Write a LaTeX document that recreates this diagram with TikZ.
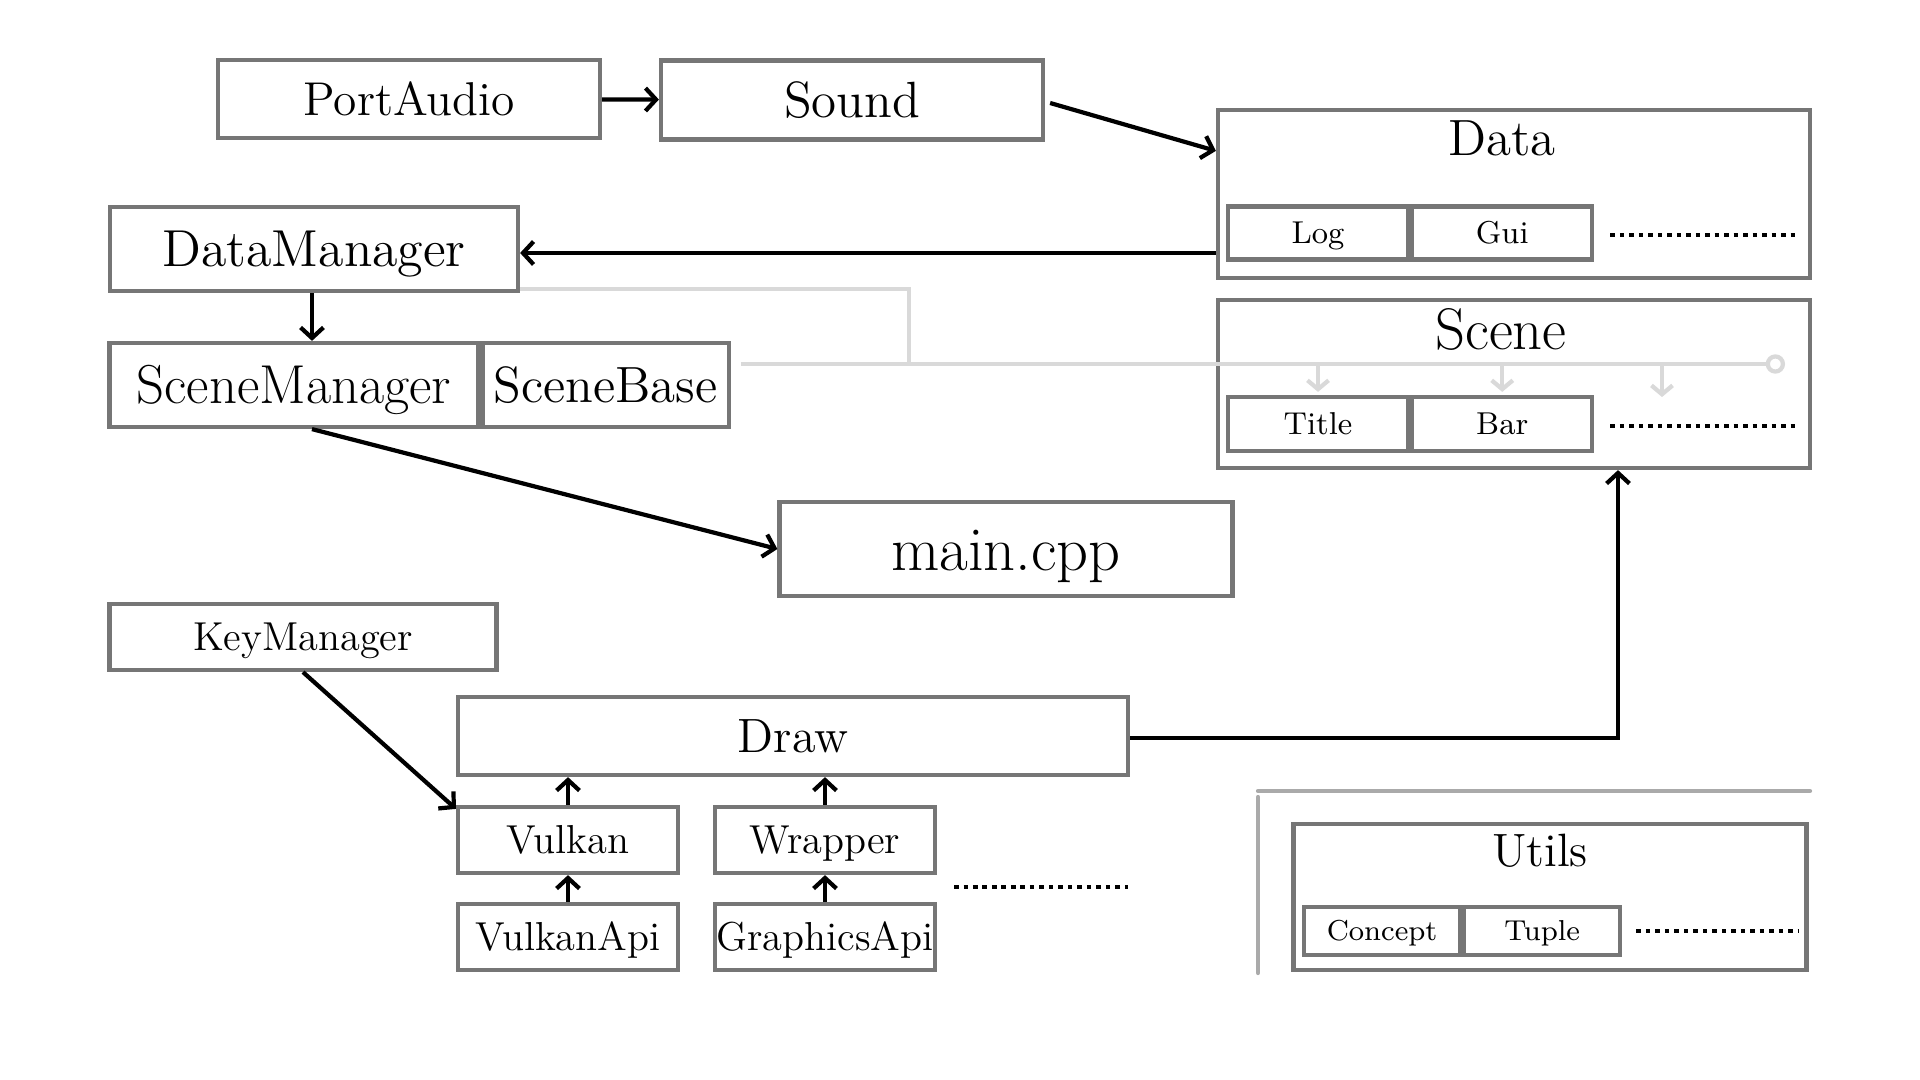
\documentclass[tikz,border=0pt]{standalone}
\usepackage{tikz}
\usetikzlibrary{positioning,arrows.meta}

\definecolor{boxgray}{RGB}{118,118,118}
\definecolor{busgray}{RGB}{217,217,217}
\definecolor{rulegray}{RGB}{170,170,170}

\tikzset{
  box/.style={draw=boxgray,line width=1.2pt,inner sep=0pt,fill=white},
  big/.style={font=\fontsize{14.5}{17}\selectfont,text height=10pt,text depth=0pt},
  mid/.style={font=\fontsize{11.5}{14}\selectfont,text height=7.9pt,text depth=0pt},
  small/.style={font=\fontsize{9}{11}\selectfont,text height=6.2pt,text depth=0pt},
  tiny/.style={font=\fontsize{8.2}{10}\selectfont,text height=5.6pt,text depth=0pt},
  dep/.style={-{Straight Barb[length=3pt,width=6.5pt]},line width=1.2pt},
  bus/.style={draw=busgray,line width=1.2pt},
  busarrow/.style={bus,-{Straight Barb[length=2.5pt,width=6pt]}},
  dots/.style={line width=1.4pt,dash pattern=on 1.3pt off 1.4pt},
}

\begin{document}
\begin{tikzpicture}
  \useasboundingbox (0,0) rectangle (19.2,-10.8);
   % sound chain
   \node[box,big,font=\fontsize{13.5}{16}\selectfont,text height=9.3pt,minimum width=3.82cm,minimum height=0.78cm] (pa) at (4.09,-0.99) {PortAudio};
   \node[box,big,minimum width=3.82cm,minimum height=0.79cm] (snd) at (8.52,-1.00) {Sound};
   % data
   \node[box,minimum width=5.92cm,minimum height=1.68cm] (data) at (15.14,-1.94) {};
   \node[big] (datatitle) at (15.02,-1.38) {Data};
   \node[box,small,minimum width=1.8cm,minimum height=0.53cm] (log) at (13.18,-2.33) {Log};
   \node[box,small,minimum width=1.8cm,minimum height=0.53cm,right=0pt of log] (gui) {Gui};
   \draw[dots] ([xshift=0.16cm,yshift=-0.02cm]gui.east) -- ([xshift=2.03cm,yshift=-0.02cm]gui.east);
   % scene
   \node[box,minimum width=5.92cm,minimum height=1.68cm] (scene) at (15.14,-3.84) {};
   \node[big,font=\fontsize{16.7}{19}\selectfont,text height=11.5pt] (scenetitle) at (15.01,-3.29) {Scene};
   \node[box,small,minimum width=1.8cm,minimum height=0.54cm] (title) at (13.18,-4.24) {Title};
   \node[box,small,minimum width=1.8cm,minimum height=0.54cm,right=0pt of title] (bar) {Bar};
   \draw[dots] ([xshift=0.16cm,yshift=-0.02cm]bar.east) -- ([xshift=2.03cm,yshift=-0.02cm]bar.east);
   % managers
   \node[box,big,font=\fontsize{14.8}{17}\selectfont,minimum width=4.08cm,minimum height=0.84cm] (dm) at (3.14,-2.49) {DataManager};
   \node[box,big,font=\fontsize{15.6}{18}\selectfont,text height=10.8pt,minimum width=3.69cm,minimum height=0.84cm] (sm) at (2.94,-3.85) {SceneManager};
   \node[box,big,minimum width=2.46cm,minimum height=0.84cm,right=0pt of sm] (sb) {SceneBase};
   \node[box,big,font=\fontsize{17.8}{20}\selectfont,text height=12.2pt,minimum width=4.53cm,minimum height=0.94cm] (main) at (10.06,-5.49) {main.cpp};
   \node[box,mid,minimum width=3.87cm,minimum height=0.66cm] (km) at (3.03,-6.37) {KeyManager};
   % draw
   \node[box,big,font=\fontsize{13.7}{16}\selectfont,text height=9.5pt,minimum width=6.70cm,minimum height=0.78cm] (draw) at (7.93,-7.36) {Draw};
   \node[box,mid,minimum width=2.20cm,minimum height=0.66cm] (vk) at (5.68,-8.40) {Vulkan};
   \node[box,mid,minimum width=2.20cm,minimum height=0.66cm] (wr) at (8.25,-8.40) {Wrapper};
   \node[box,mid,minimum width=2.20cm,minimum height=0.66cm] (vka) at (5.68,-9.37) {VulkanApi};
   \node[box,mid,minimum width=2.20cm,minimum height=0.66cm] (ga) at (8.25,-9.37) {GraphicsApi};
   \draw[dots] (9.54,-8.87) -- (11.28,-8.87);
   % utils
   \draw[rulegray,line width=1.2pt,line cap=round] (12.58,-9.73) -- (12.58,-7.97);
   \draw[rulegray,line width=1.2pt,line cap=round] (12.58,-7.91) -- (18.10,-7.91);
   \node[box,minimum width=5.13cm,minimum height=1.46cm] (utils) at (15.50,-8.97) {};
   \node[big,font=\fontsize{13.3}{16}\selectfont,text height=9.2pt] (utilstitle) at (15.40,-8.50) {Utils};
   \node[box,tiny,minimum width=1.56cm,minimum height=0.48cm] (concept) at (13.82,-9.31) {Concept};
   \node[box,tiny,minimum width=1.56cm,minimum height=0.48cm,right=0pt of concept] (tuple) {Tuple};
   \draw[dots] ([xshift=0.14cm]tuple.east) -- ([xshift=1.77cm]tuple.east);
   % scene bus
   \coordinate (busend) at (17.85,-3.64);
   \coordinate (busjoin) at (9.09,-3.64);
   \draw[bus] ([yshift=0.04cm]dm.south east) -| (busjoin);
   \draw[bus,-{Circle[open,length=5.5pt,fill=white]}] ([xshift=0.1cm]sb.east |- busend) -- (busend);
   \draw[busarrow] (title.north |- busend) -- ([yshift=0.03cm]title.north);
   \draw[busarrow] (bar.north |- busend) -- ([yshift=0.03cm]bar.north);
   \draw[busarrow] ([xshift=-1.23cm]busend) -- ++(0,-0.33);
   % dependencies
   \draw[dep] (pa) -- (snd);
   \draw[dep] ([xshift=0.05cm,yshift=-0.03cm]snd.east) -- ([yshift=-0.43cm]data.north west);
   \draw[dep] ([yshift=-0.04cm]dm.east -| data.west) -- ([yshift=-0.04cm]dm.east);
   \draw[dep] ([xshift=-0.02cm]dm.south) -- ([xshift=-0.02cm]dm.south |- sm.north);
   \draw[dep] ([xshift=-0.02cm]dm.south |- sm.south) -- (main.west);
   \draw[dep] (km.south) -- ([yshift=-0.04cm]vk.north west);
   \draw[dep] ([yshift=-0.02cm]draw.east) -| ([xshift=1.04cm]scene.south);
   \draw[dep] (vk.north) -- (vk.north |- draw.south);
   \draw[dep] (wr.north) -- (wr.north |- draw.south);
   \draw[dep] (vka.north) -- (vka.north |- vk.south);
   \draw[dep] (ga.north) -- (ga.north |- wr.south);
\end{tikzpicture}
\end{document}
